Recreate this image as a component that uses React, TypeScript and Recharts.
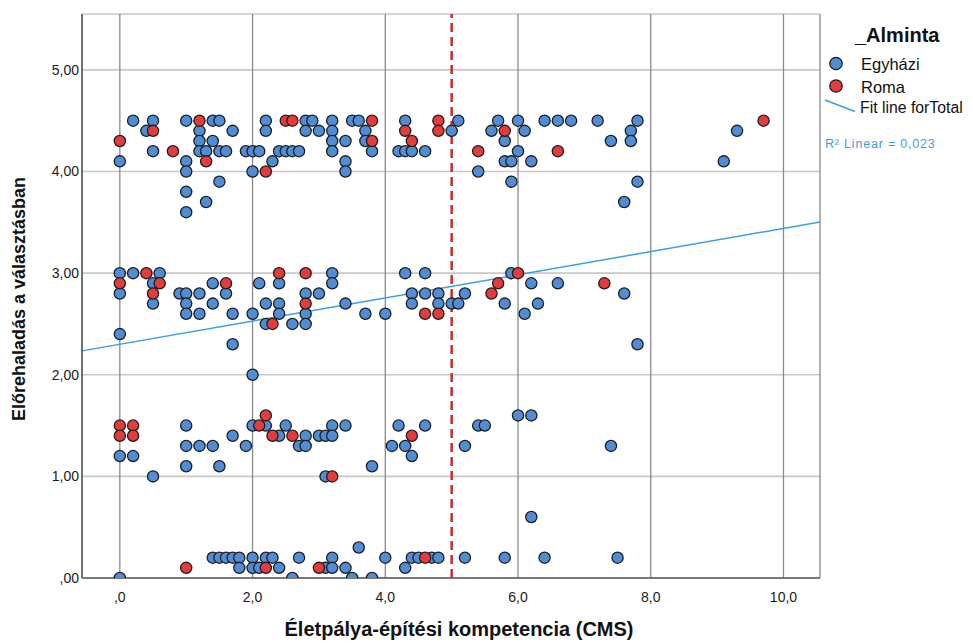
import React from 'react';
import { ScatterChart, Scatter, XAxis, YAxis, CartesianGrid, ReferenceLine } from 'recharts';

const FONT = '"Liberation Sans", Arial, sans-serif';

// Axis ticks & labels
const xTicks = [0, 2, 4, 6, 8, 10];
const xTickLabels = [',0', '2,0', '4,0', '6,0', '8,0', '10,0'];
const yTicks = [0, 1, 2, 3, 4, 5];
const yTickLabels = [',00', '1,00', '2,00', '3,00', '4,00', '5,00'];
const xDomain: [number, number] = [-0.57, 10.55];
const yDomain: [number, number] = [0, 5.55];

// Fit line for total, R² = 0,023
const fitIntercept = 2.3;
const fitSlope = 0.114;
const cutoffX = 5;

// Egyházi group: [y level, x values]
const egyhaziRows: [number, number[]][] = [
  [4.5, [0.2, 0.5, 1.0, 1.4, 1.5, 2.2, 2.8, 2.9, 3.2, 3.5, 3.6, 4.3, 5.1, 5.7, 6.0, 6.4, 6.6, 6.8, 7.2, 7.8]],
  [4.4, [0.4, 1.2, 1.7, 2.2, 2.8, 3.0, 3.2, 3.7, 5.0, 5.6, 6.1, 7.7, 9.3]],
  [4.3, [1.2, 1.4, 3.2, 3.4, 3.7, 5.8, 7.4, 7.7]],
  [4.2, [0.5, 1.2, 1.3, 1.5, 1.6, 1.9, 2.0, 2.1, 2.4, 2.5, 2.6, 2.7, 3.2, 3.8, 4.2, 4.3, 4.4, 4.6, 6.0]],
  [4.1, [0.0, 1.0, 2.3, 3.4, 5.8, 5.9, 6.2, 9.1]],
  [4.0, [1.0, 2.0, 3.4, 5.4]],
  [3.9, [1.5, 5.9, 7.8]],
  [3.8, [1.0]],
  [3.7, [1.3, 7.6]],
  [3.6, [1.0]],
  [3.0, [0.0, 0.2, 0.6, 3.2, 4.3, 4.6, 5.9]],
  [2.9, [0.5, 1.4, 2.1, 2.4, 3.2, 6.2, 6.6]],
  [2.8, [0.0, 0.9, 1.0, 1.2, 1.6, 2.8, 3.0, 4.4, 4.6, 4.8, 5.2, 7.6]],
  [2.7, [0.5, 1.0, 1.4, 2.2, 2.4, 3.4, 4.4, 4.8, 5.0, 5.1, 5.8, 6.3]],
  [2.6, [1.0, 1.2, 1.7, 2.0, 2.4, 2.8, 3.7, 4.0, 6.1]],
  [2.5, [2.2, 2.6, 2.8]],
  [2.4, [0.0]],
  [2.3, [1.7, 7.8]],
  [2.0, [2.0]],
  [1.6, [6.0, 6.2]],
  [1.5, [1.0, 2.0, 2.2, 2.5, 3.2, 3.4, 4.2, 4.6, 5.4, 5.5]],
  [1.4, [1.7, 2.4, 2.8, 3.0, 3.1, 3.2]],
  [1.3, [1.0, 1.2, 1.4, 1.9, 2.7, 2.8, 4.1, 4.3, 5.2, 7.4]],
  [1.2, [0.0, 0.2, 4.4]],
  [1.1, [1.0, 1.5, 3.8]],
  [1.0, [0.5, 3.1]],
  [0.6, [6.2]],
  [0.3, [3.6]],
  [0.2, [1.4, 1.5, 1.6, 1.7, 1.8, 2.0, 2.2, 2.3, 2.7, 3.2, 4.0, 4.4, 4.5, 4.7, 4.8, 5.2, 5.8, 6.4, 7.5]],
  [0.1, [1.8, 2.0, 2.1, 2.4, 3.1, 3.2, 3.4, 4.3]],
  [0.0, [0.0, 2.6, 3.5, 3.8]],
];

// Roma group: [y level, x values]
const romaRows: [number, number[]][] = [
  [4.5, [1.2, 2.5, 2.6, 3.8, 4.8, 9.7]],
  [4.4, [0.5, 4.3, 4.8, 5.8]],
  [4.3, [0.0, 3.8, 4.4]],
  [4.2, [0.8, 5.4, 6.6]],
  [4.1, [1.3]],
  [4.0, [2.2]],
  [3.0, [0.4, 2.4, 2.8, 6.0]],
  [2.9, [0.0, 0.6, 1.6, 5.7, 7.3]],
  [2.8, [0.5, 5.6]],
  [2.7, [2.8]],
  [2.6, [4.6, 4.8]],
  [2.5, [2.3]],
  [1.6, [2.2]],
  [1.5, [0.0, 0.2, 2.1]],
  [1.4, [0.0, 0.2, 2.3, 2.6, 4.4]],
  [1.0, [3.2]],
  [0.2, [4.6]],
  [0.1, [1.0, 2.2, 3.0]],
];

const flatten = (rows: [number, number[]][]) =>
  rows.flatMap(([y, xs]) => xs.map((x) => ({ x, y })));

const egyhaziData = flatten(egyhaziRows);
const romaData = flatten(romaRows);

const BLUE = '#4F8ED6';
const RED = '#E63B3B';
const FIT = '#3A9FE0';
const STROKE = '#1c1c1c';

const makeDot = (fill: string) => (props: any) => {
  const { cx, cy } = props;
  if (cx == null || cy == null) return <g />;
  return <circle cx={cx} cy={cy} r={5.6} fill={fill} stroke={STROKE} strokeWidth={1.3} />;
};

export default function App() {
  return (
    <div style={{ position: 'fixed', left: 0, top: 0, width: 973, height: 643, background: '#fff', fontFamily: FONT }}>
      <ScatterChart width={973} height={643} margin={{ top: 14, right: 153, bottom: 0, left: 22 }}>
        <CartesianGrid horizontal vertical={false} stroke="#c8c8c8" strokeWidth={1.6} />
        <CartesianGrid horizontal={false} vertical stroke="#8a8a8a" strokeWidth={1.3} />
        <XAxis
          type="number"
          dataKey="x"
          domain={xDomain}
          ticks={xTicks}
          interval={0}
          allowDataOverflow
          height={65}
          tickSize={0}
          tickMargin={14}
          tickLine={false}
          axisLine={{ stroke: '#5a5a5a', strokeWidth: 1.5 }}
          tick={{ fontSize: 14, fill: '#1a1a1a', fontFamily: FONT }}
          tickFormatter={(v: number) => xTickLabels[xTicks.indexOf(v)] ?? String(v)}
        />
        <YAxis
          type="number"
          dataKey="y"
          domain={yDomain}
          ticks={yTicks}
          interval={0}
          allowDataOverflow
          width={60}
          tickSize={0}
          tickMargin={3}
          tickLine={false}
          axisLine={{ stroke: '#5a5a5a', strokeWidth: 1.5 }}
          tick={{ fontSize: 14, fill: '#1a1a1a', fontFamily: FONT }}
          tickFormatter={(v: number) => yTickLabels[yTicks.indexOf(v)] ?? String(v)}
        />
        <ReferenceLine
          segment={[
            { x: xDomain[0], y: fitIntercept + fitSlope * xDomain[0] },
            { x: xDomain[1], y: fitIntercept + fitSlope * xDomain[1] },
          ]}
          stroke={FIT}
          strokeWidth={1.5}
          ifOverflow="visible"
        />
        <Scatter data={egyhaziData} fill={BLUE} shape={makeDot(BLUE)} isAnimationActive={false} />
        <Scatter data={romaData} fill={RED} shape={makeDot(RED)} isAnimationActive={false} />
        <ReferenceLine x={cutoffX} stroke="#CC2A2A" strokeWidth={2.5} strokeDasharray="9 5" />
      </ScatterChart>
      <svg
        width={973}
        height={643}
        style={{ position: 'absolute', left: 0, top: 0, pointerEvents: 'none' }}
        fontFamily={FONT}
      >
        <text x={459} y={636} textAnchor="middle" fontSize={20} fontWeight="bold" fill="#111">
          Életpálya-építési kompetencia (CMS)
        </text>
        <text transform="translate(25,299) rotate(-90)" textAnchor="middle" fontSize={18} fontWeight="bold" fill="#111">
          Előrehaladás a választásban
        </text>
        <text x={855} y={41.5} fontSize={20} fontWeight="bold" fill="#111">_Alminta</text>
        <circle cx={836} cy={63.5} r={6.2} fill={BLUE} stroke={STROKE} strokeWidth={1.3} />
        <text x={861} y={70} fontSize={16.5} fill="#111">Egyházi</text>
        <circle cx={836} cy={86} r={6.2} fill={RED} stroke={STROKE} strokeWidth={1.3} />
        <text x={861} y={92.7} fontSize={16.5} fill="#111">Roma</text>
        <line x1={825} y1={100} x2={855} y2={111.5} stroke={FIT} strokeWidth={1.5} />
        <text x={860} y={113.3} fontSize={15.8} fill="#111">Fit line forTotal</text>
        <text x={825} y={148} fontSize={12.5} letterSpacing={0.8} fill={FIT}>R² Linear = 0,023</text>
      </svg>
    </div>
  );
}
